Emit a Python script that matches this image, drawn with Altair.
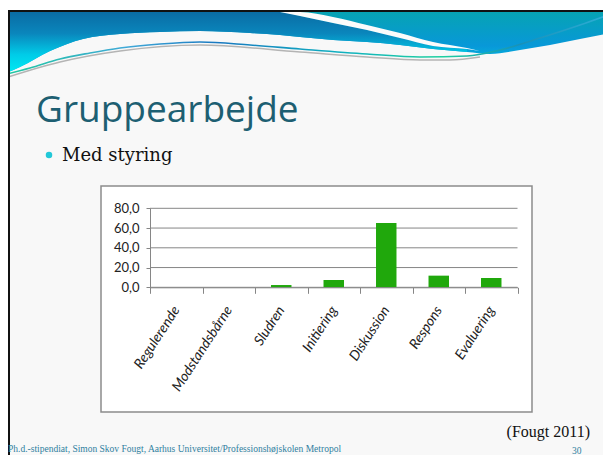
import altair as alt
import pandas as pd

# ---------------- chart data ----------------
categories = ["Regulerende", "Modstandsbårne", "Sludren", "Initiering",
              "Diskussion", "Respons", "Evaluering"]
values = [0.0, 0.0, 2.3, 7.4, 65.2, 11.8, 9.4]
y_ticks = [0, 20, 40, 60, 80]

title_text = "Gruppearbejde"
bullet_text = "Med styring"
source_text = "(Fougt 2011)"
footer_text = "Ph.d.-stipendiat, Simon Skov Fougt, Aarhus Universitet/Professionshøjskolen Metropol"
page_text = "30"

# ---------------- decoration geometry (page pixel coords) ----------------
band_x = [6, 20, 50, 83, 120, 160, 200, 250, 280, 300, 333, 367, 400, 433, 467, 490, 520, 550, 580, 611]
band_bot = [73, 67, 51, 39, 34, 32, 31, 33, 35, 37, 40, 42, 45, 49, 52, 54, 50, 45, 39, 33]

left_x = band_x[:15]
left_top = [12] * 9 + [16, 23, 30, 38, 46, 49]
left_bot = band_bot[:15]

wedge_x = [280, 300, 333, 367, 400, 433, 467, 480]
wedge_top = [12, 12, 17, 25, 33, 42, 48, 51]
wedge_bot = [12, 16, 23, 30, 38, 46, 49, 51]

line1_x = [7, 30, 60, 90, 120, 160, 200, 250, 300, 367, 420, 467, 500, 540, 580, 611]
line1_y = [74, 68, 59, 53, 48, 44, 42, 45, 49, 54, 57, 56, 50, 38, 25, 14]
line2_x = [8, 60, 120, 200, 300, 367, 420, 450, 480]
line2_y = [77, 62, 51, 45, 52, 57, 60, 60, 57]

W, H = 595, 447
OX, OY = 8, 8
XS = alt.Scale(domain=[OX, OX + W], range=[0, W])
YS = alt.Scale(domain=[OY, OY + H], range=[0, H])

one = pd.DataFrame({"k": [0]})

bg = alt.Chart(one).mark_rect(color="#f8f8f8").encode(
    x=alt.value(0), x2=alt.value(W), y=alt.value(3), y2=alt.value(H))


def grad(stops, horizontal=False):
    return alt.Gradient(gradient="linear", x1=0, y1=0,
                        x2=1 if horizontal else 0, y2=0 if horizontal else 1,
                        stops=[alt.GradientStop(color=c, offset=o) for o, c in stops])


band = alt.Chart(pd.DataFrame({"x": band_x, "y": [12] * len(band_x), "y2": band_bot})).mark_area(
    interpolate="monotone",
    color=grad([(0, "#06a3b3"), (0.55, "#0898d8"), (1, "#00c8e2")])
).encode(x=alt.X("x:Q", scale=XS, axis=None),
         y=alt.Y("y:Q", scale=YS, axis=None), y2="y2:Q")

left_wave = alt.Chart(pd.DataFrame({"x": left_x, "y": left_top, "y2": left_bot})).mark_area(
    interpolate="monotone",
    color=grad([(0, "#0a6ca4"), (0.35, "#0a86bc"), (0.7, "#00cce8"), (1, "#00eaf2")])
).encode(x=alt.X("x:Q", scale=XS, axis=None),
         y=alt.Y("y:Q", scale=YS, axis=None), y2="y2:Q")

wedge = alt.Chart(pd.DataFrame({"x": wedge_x, "y": wedge_top, "y2": wedge_bot})).mark_area(
    interpolate="monotone", color="#fbfbfb"
).encode(x=alt.X("x:Q", scale=XS, axis=None),
         y=alt.Y("y:Q", scale=YS, axis=None), y2="y2:Q")

line1 = alt.Chart(pd.DataFrame({"x": line1_x, "y": line1_y})).mark_line(
    interpolate="monotone", strokeWidth=1.6,
    stroke=grad([(0, "#20c8a0"), (0.2, "#40a8d8"), (0.35, "#1878c0"), (0.55, "#10b0c0"),
                 (0.72, "#20d0a0"), (0.85, "#1890b8"), (1, "#30b0d8")], horizontal=True)
).encode(x=alt.X("x:Q", scale=XS, axis=None), y=alt.Y("y:Q", scale=YS, axis=None))

line2 = alt.Chart(pd.DataFrame({"x": line2_x, "y": line2_y})).mark_line(
    interpolate="monotone", strokeWidth=1.5, color="#b4b4b4"
).encode(x=alt.X("x:Q", scale=XS, axis=None), y=alt.Y("y:Q", scale=YS, axis=None))

top_border = alt.Chart(one).mark_rule(color="#111111", strokeWidth=2).encode(
    x=alt.value(0), x2=alt.value(W), y=alt.value(3))
left_border = alt.Chart(one).mark_rule(color="#111111", strokeWidth=2).encode(
    x=alt.value(1), y=alt.value(2), y2=alt.value(H))

title = alt.Chart(one).mark_text(
    text=title_text, font="Open Sans", fontSize=37, color="#1d5f72",
    align="left", baseline="alphabetic").encode(x=alt.value(28), y=alt.value(114))

bullet = alt.Chart(one).mark_circle(size=42, color="#22c8d8", opacity=1).encode(
    x=alt.value(41), y=alt.value(147))

bullet_label = alt.Chart(one).mark_text(
    text=bullet_text, font="DejaVu Serif", fontSize=18, color="#111111",
    align="left", baseline="alphabetic").encode(x=alt.value(54), y=alt.value(153))

box = alt.Chart(one).mark_rect(fill="white", stroke="#8c8c8c", strokeWidth=1.5).encode(
    x=alt.value(93), x2=alt.value(524), y=alt.value(178), y2=alt.value(404))

# ---------------- bar chart ----------------
bar_df = pd.DataFrame({"cat": categories, "val": values})
grid_df = pd.DataFrame({"v": y_ticks})

X0, X1 = 142, 509.5
Y0, Y80 = 279.3, 200.3
bx = alt.Scale(range=[X0, X1], paddingInner=0, paddingOuter=0)
by = alt.Scale(domain=[0, 80], range=[Y0, Y80])

yaxis = alt.Axis(orient="left", offset=-X0, values=y_ticks, grid=False, zindex=2,
                 labelExpr="replace(format(datum.value, '.1f'), '.', ',')",
                 labelFont="Lato", labelFontSize=13, labelColor="#222222",
                 tickSize=4, tickColor="#868686", domainColor="#868686",
                 labelPadding=7, title=None)
xaxis = alt.Axis(orient="bottom", offset=Y0 - H, labelAngle=-57, zindex=2,
                 labelAlign="right", labelBaseline="middle",
                 labelFont="Lato", labelFontSize=14, labelFontStyle="italic",
                 labelColor="#222222",
                 tickBand="extent", tickSize=6, tickColor="#868686",
                 domainColor="#868686", labelPadding=14, title=None, grid=False)

grid = alt.Chart(grid_df).mark_rule(color="#868686", strokeWidth=1).encode(
    y=alt.Y("v:Q", scale=by, axis=yaxis), x=alt.value(X0), x2=alt.value(X1))

bars = alt.Chart(bar_df).mark_bar(color="#20a80c", width=alt.RelativeBandSize(0.39)).encode(
    x=alt.X("cat:N", sort=categories, scale=bx, axis=xaxis),
    y=alt.Y("val:Q", scale=by))

bar_chart = alt.layer(grid, bars)

source = alt.Chart(one).mark_text(
    text=source_text, font="Liberation Serif", fontSize=16, color="#111111",
    align="right", baseline="alphabetic").encode(x=alt.value(582), y=alt.value(429))

footer = alt.Chart(one).mark_text(
    text=footer_text, font="Liberation Serif", fontSize=9.5, color="#2f7fa0",
    align="left", baseline="alphabetic").encode(x=alt.value(0), y=alt.value(444))

page_no = alt.Chart(one).mark_text(
    text=page_text, font="Liberation Serif", fontSize=9.5, color="#2f7fa0",
    align="left", baseline="alphabetic").encode(x=alt.value(564), y=alt.value(446))

chart = alt.layer(
    bg, band, left_wave, wedge, line2, line1, top_border, left_border,
    title, bullet, bullet_label, box, bar_chart, source, footer, page_no
).resolve_scale(x="independent", y="independent").properties(
    width=W, height=H, padding=0,
    autosize=alt.AutoSizeParams(type="none")
).configure_view(stroke=None)

chart.save("out.html", embed_options={"renderer": "svg", "actions": False})
